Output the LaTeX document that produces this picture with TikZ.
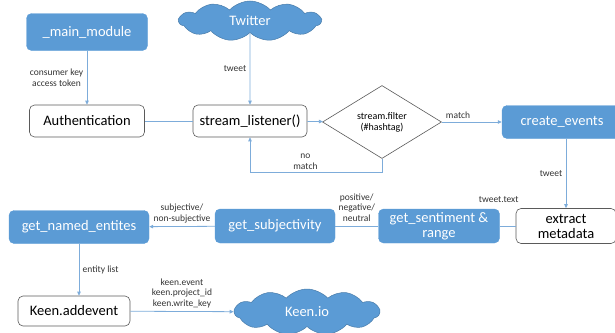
\documentclass[tikz,border=0pt]{standalone}
\usepackage{fontspec}
\setmainfont{Carlito}
\usetikzlibrary{
  arrows.meta,
  shapes.geometric,
  shapes.symbols
}
\definecolor{FlowBlue} {RGB}{91,155,213}
\definecolor{FlowLine} {RGB}{125,172,218}
\definecolor{FlowGrey} {RGB}{90,90,90}
\definecolor{FlowText} {RGB}{50,50,50}

\begin{document}
\begin{tikzpicture}[
  x=1pt, y=-1pt,
  proc/.style ={rectangle, rounded corners=5pt, align=center, inner sep=1pt,
                font=\fontsize{14.5}{15}\selectfont, text=white,
                draw=FlowBlue, fill=FlowBlue},
  plain/.style={rectangle, rounded corners=5pt, align=center, inner sep=1pt,
                font=\fontsize{14.5}{15}\selectfont, text=black,
                draw=FlowGrey, fill=white, line width=0.6pt},
  svc/.style  ={cloud, cloud puffs=11, cloud puff arc=95, cloud ignores aspect,
                draw=FlowBlue!80!black, fill=FlowBlue, text=white,
                font=\fontsize{14.5}{15}\selectfont, line width=0.5pt},
  test/.style ={diamond, draw=FlowGrey, fill=white, align=center, inner sep=0pt,
                font=\fontsize{10}{11}\selectfont, line width=0.6pt},
  lbl/.style  ={font=\fontsize{9.5}{10.5}\selectfont, text=FlowText, align=center},
  arr/.style  ={-{Triangle[length=4pt,width=3.5pt]}, FlowLine, line width=0.8pt},
  link/.style ={FlowLine, line width=0.8pt}
]
\useasboundingbox (0,0) rectangle (615,332);

% top row
\node[proc, minimum width=121pt, minimum height=37pt] (mm) at (87,32)  {\_main\_module};
\node[svc,  minimum width=142pt, minimum height=40pt] (tw) at (250,21) {Twitter};

% listener row
\node[plain, minimum width=115pt, minimum height=32pt] (au) at (87,121)  {Authentication};
\node[plain, minimum width=114pt, minimum height=32pt] (sl) at (250,121) {stream\_listener()};
\node[test,  minimum width=119pt, minimum height=73pt] (sf) at (382,122) {stream.filter\\(\#hashtag)};
\node[proc,  minimum width=120pt, minimum height=33pt] (ce) at (562,122) {create\_events};

% analysis row
\node[plain, minimum width=100pt, minimum height=35pt] (em) at (566,226) {extract\\metadata};
\node[proc,  minimum width=121pt, minimum height=34pt] (gs) at (439,226) {get\_sentiment \&\\range};
\node[proc,  minimum width=120pt, minimum height=34pt] (gj) at (275,226) {get\_subjectivity};
\node[proc,  minimum width=140pt, minimum height=33pt] (ne) at (79,227)  {get\_named\_entites};

% output row
\node[plain, minimum width=112pt, minimum height=30pt] (ka) at (74,311)  {Keen.addevent};
\node[svc,   minimum width=145pt, minimum height=46pt] (ki) at (307,312) {Keen.io};

\draw[arr] (mm) -- (au)
     node[midway, left, lbl] {consumer key\\access token};
\draw[arr] (tw) -- (sl)
     node[midway, left, lbl] {tweet};
\draw[link] (au) -- (sl);
\draw[arr] (sl) -- (sf);
\draw[arr] (sf) -- (ce)
     node[pos=0.27, above, lbl] {match};

% no match loop back to the listener
\draw[arr] (sf.south) -- ++(0,14) -| (sl.south)
     node[pos=0.29, above, lbl] {no\\match};

\draw[arr] (ce.south -| em.north) -- (em.north)
     node[midway, left, lbl] {tweet};
\draw[link] (em) -- (gs)
     node[midway, yshift=26pt, xshift=-9pt, lbl] {tweet.text};
\draw[link] (gs) -- (gj)
     node[midway, above=1pt, lbl] {positive/\\negative/\\neutral};
\draw[arr] (gj) -- (ne)
     node[midway, above=0pt, lbl] {subjective/\\non-subjective};
\draw[arr] (ne.south) -- (ne.south |- ka.north)
     node[midway, right, lbl] {entity list};
\draw[arr] (ka) -- (ki)
     node[midway, above, lbl] {keen.event\\keen.project\_id\\keen.write\_key};
\end{tikzpicture}
\end{document}
